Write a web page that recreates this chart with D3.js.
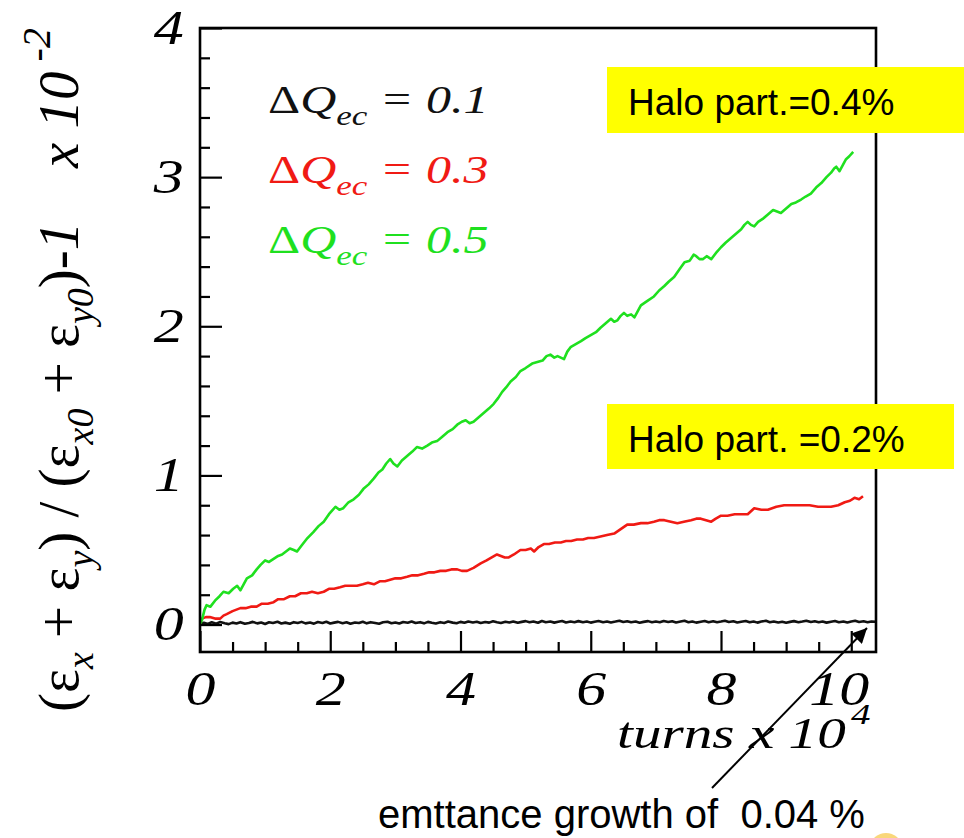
<!DOCTYPE html>
<html>
<head>
<meta charset="utf-8">
<script src="https://cdn.jsdelivr.net/npm/d3@7"></script>
<style>
  body { margin: 0; background: #fff; }
  svg { display: block; }
</style>
</head>
<body>
<svg id="chart" width="964" height="838"></svg>
<script>
// ---- data: relative emittance growth (x 10^-2) vs. turns (x 10^4) ----
const xMajorTicks = [0, 2, 4, 6, 8, 10];
const xMinorTicks = [0.5, 1, 1.5, 2.5, 3, 3.5, 4.5, 5, 5.5, 6.5, 7, 7.5, 8.5, 9, 9.5];
const yMajorTicks = [0, 1, 2, 3, 4];
const yMinorTicks = [0.2, 0.4, 0.6, 0.8, 1.2, 1.4, 1.6, 1.8, 2.2, 2.4, 2.6, 2.8, 3.2, 3.4, 3.6, 3.8];

const seriesNames = ["0.1", "0.3", "0.5"];

// ΔQec = 0.1
const seriesQ01 = [
  [0,0.000],[0.06,0.012],[0.12,0.004],[0.18,0.015],[0.25,0.006],[0.31,0.017],[0.38,0.009],[0.44,0.003],
  [0.5,0.013],[0.56,0.007],[0.62,0.016],[0.69,0.005],[0.75,0.011],[0.81,0.018],[0.88,0.008],[0.94,0.014],
  [1.0,0.004],[1.06,0.015],[1.12,0.010],[1.19,0.019],[1.25,0.007],[1.31,0.013],[1.38,0.005],[1.44,0.016],
  [1.5,0.010],[1.56,0.018],[1.62,0.008],[1.69,0.014],[1.75,0.006],[1.81,0.017],[1.88,0.011],[1.94,0.019],
  [2.0,0.007],[2.06,0.013],[2.12,0.018],[2.19,0.009],[2.25,0.015],[2.31,0.005],[2.38,0.014],[2.44,0.010],
  [2.5,0.019],[2.56,0.008],[2.62,0.016],[2.69,0.011],[2.75,0.006],[2.81,0.015],[2.88,0.019],[2.94,0.009],
  [3.0,0.014],[3.06,0.007],[3.12,0.017],[3.19,0.012],[3.25,0.020],[3.31,0.010],[3.38,0.016],[3.44,0.008],
  [3.5,0.018],[3.56,0.012],[3.62,0.007],[3.69,0.016],[3.75,0.011],[3.81,0.020],[3.88,0.013],[3.94,0.009],
  [4.0,0.018],[4.06,0.012],[4.12,0.021],[4.19,0.014],[4.25,0.019],[4.31,0.010],[4.38,0.017],[4.44,0.013],
  [4.5,0.022],[4.56,0.015],[4.62,0.010],[4.69,0.019],[4.75,0.014],[4.81,0.021],[4.88,0.012],[4.94,0.018],
  [5.0,0.023],[5.06,0.015],[5.12,0.020],[5.19,0.012],[5.25,0.024],[5.31,0.016],[5.38,0.020],[5.44,0.013],
  [5.5,0.019],[5.56,0.024],[5.62,0.014],[5.69,0.020],[5.75,0.016],[5.81,0.023],[5.88,0.015],[5.94,0.021],
  [6.0,0.013],[6.06,0.019],[6.12,0.024],[6.19,0.016],[6.25,0.021],[6.31,0.014],[6.38,0.020],[6.44,0.026],
  [6.5,0.017],[6.56,0.022],[6.62,0.015],[6.69,0.020],[6.75,0.012],[6.81,0.018],[6.88,0.023],[6.94,0.015],
  [7.0,0.021],[7.06,0.016],[7.12,0.024],[7.19,0.017],[7.25,0.022],[7.31,0.014],[7.38,0.020],[7.44,0.025],
  [7.5,0.016],[7.56,0.021],[7.62,0.013],[7.69,0.019],[7.75,0.024],[7.81,0.016],[7.88,0.022],[7.94,0.015],
  [8.0,0.020],[8.06,0.026],[8.12,0.017],[8.19,0.022],[8.25,0.014],[8.31,0.019],[8.38,0.024],[8.44,0.016],
  [8.5,0.021],[8.56,0.013],[8.62,0.020],[8.69,0.025],[8.75,0.016],[8.81,0.021],[8.88,0.014],[8.94,0.019],
  [9.0,0.012],[9.06,0.018],[9.12,0.023],[9.19,0.015],[9.25,0.020],[9.31,0.026],[9.38,0.017],[9.44,0.022],
  [9.5,0.015],[9.56,0.020],[9.62,0.013],[9.69,0.019],[9.75,0.024],[9.81,0.016],[9.88,0.021],[9.94,0.014],
  [10.0,0.020],[10.06,0.025],[10.12,0.017],[10.19,0.022],[10.25,0.016],[10.31,0.021],[10.38,0.019]
];

// ΔQec = 0.3
const seriesQ03 = [
  [0,0],[0.03,0.04],[0.09,0.05],[0.15,0.05],[0.23,0.04],[0.31,0.04],[0.36,0.06],[0.41,0.07],[0.5,0.09],
  [0.56,0.10],[0.62,0.11],[0.7,0.11],[0.78,0.12],[0.87,0.12],[0.95,0.14],[1.04,0.14],[1.13,0.15],
  [1.2,0.17],[1.29,0.17],[1.38,0.19],[1.46,0.19],[1.55,0.21],[1.64,0.21],[1.72,0.22],[1.81,0.21],
  [1.9,0.22],[1.98,0.24],[2.06,0.24],[2.15,0.25],[2.23,0.26],[2.32,0.26],[2.41,0.26],[2.5,0.27],
  [2.58,0.28],[2.67,0.27],[2.76,0.29],[2.84,0.29],[2.92,0.30],[3.0,0.31],[3.09,0.31],[3.18,0.32],
  [3.26,0.33],[3.35,0.33],[3.44,0.34],[3.52,0.35],[3.6,0.35],[3.69,0.36],[3.78,0.36],[3.86,0.37],
  [3.95,0.37],[4.02,0.36],[4.1,0.36],[4.2,0.38],[4.31,0.41],[4.4,0.43],[4.48,0.45],[4.56,0.47],
  [4.62,0.46],[4.68,0.45],[4.74,0.45],[4.82,0.47],[4.92,0.50],[5.0,0.50],[5.08,0.51],[5.13,0.49],
  [5.2,0.52],[5.28,0.54],[5.36,0.54],[5.45,0.55],[5.54,0.55],[5.62,0.56],[5.7,0.56],[5.79,0.57],
  [5.88,0.57],[5.96,0.58],[6.05,0.58],[6.15,0.59],[6.25,0.60],[6.36,0.61],[6.46,0.64],[6.56,0.67],
  [6.66,0.67],[6.77,0.68],[6.87,0.68],[6.97,0.69],[7.05,0.70],[7.13,0.70],[7.23,0.69],[7.33,0.68],
  [7.43,0.69],[7.54,0.70],[7.62,0.71],[7.69,0.71],[7.77,0.70],[7.85,0.69],[7.92,0.71],[8.0,0.73],
  [8.1,0.73],[8.21,0.74],[8.31,0.74],[8.41,0.74],[8.46,0.76],[8.51,0.78],[8.62,0.77],[8.72,0.77],
  [8.85,0.79],[8.97,0.80],[9.1,0.80],[9.23,0.80],[9.36,0.80],[9.49,0.79],[9.6,0.79],[9.69,0.79],
  [9.8,0.80],[9.9,0.82],[9.98,0.83],[10.05,0.85],[10.12,0.84],[10.18,0.86]
];

// ΔQec = 0.5
const seriesQ05 = [
  [0,0],[0.03,0.03],[0.07,0.10],[0.1,0.13],[0.16,0.12],[0.23,0.16],[0.3,0.19],[0.36,0.22],[0.44,0.21],
  [0.51,0.24],[0.57,0.26],[0.62,0.23],[0.67,0.27],[0.72,0.31],[0.8,0.33],[0.87,0.37],[0.93,0.40],
  [1.0,0.43],[1.06,0.42],[1.13,0.44],[1.2,0.46],[1.26,0.47],[1.32,0.49],[1.38,0.51],[1.44,0.50],
  [1.49,0.49],[1.56,0.53],[1.65,0.58],[1.74,0.62],[1.82,0.66],[1.9,0.69],[1.98,0.74],[2.08,0.79],
  [2.14,0.77],[2.2,0.78],[2.28,0.82],[2.36,0.84],[2.44,0.87],[2.51,0.91],[2.59,0.94],[2.67,0.98],
  [2.74,1.02],[2.8,1.04],[2.86,1.08],[2.92,1.11],[2.97,1.08],[3.03,1.06],[3.1,1.10],[3.18,1.13],
  [3.26,1.16],[3.33,1.19],[3.41,1.18],[3.49,1.20],[3.56,1.22],[3.64,1.23],[3.72,1.26],[3.8,1.29],
  [3.88,1.31],[3.95,1.34],[4.02,1.36],[4.08,1.37],[4.14,1.35],[4.2,1.36],[4.28,1.39],[4.36,1.42],
  [4.44,1.45],[4.51,1.48],[4.58,1.52],[4.64,1.56],[4.7,1.59],[4.77,1.63],[4.85,1.66],[4.92,1.70],
  [5.0,1.72],[5.1,1.75],[5.18,1.76],[5.26,1.77],[5.32,1.80],[5.38,1.81],[5.44,1.79],[5.49,1.80],
  [5.54,1.79],[5.59,1.78],[5.64,1.83],[5.69,1.86],[5.77,1.88],[5.85,1.90],[5.92,1.92],[6.0,1.94],
  [6.08,1.96],[6.15,1.99],[6.23,2.02],[6.31,2.05],[6.36,2.03],[6.41,2.04],[6.46,2.07],[6.51,2.09],
  [6.56,2.07],[6.62,2.08],[6.67,2.06],[6.72,2.10],[6.77,2.14],[6.87,2.17],[6.97,2.20],[7.05,2.24],
  [7.13,2.27],[7.2,2.30],[7.28,2.33],[7.36,2.38],[7.44,2.43],[7.52,2.44],[7.58,2.48],[7.62,2.47],
  [7.67,2.45],[7.72,2.45],[7.78,2.47],[7.85,2.45],[7.92,2.49],[8.0,2.53],[8.07,2.56],[8.15,2.59],
  [8.23,2.62],[8.31,2.65],[8.36,2.68],[8.41,2.70],[8.46,2.68],[8.51,2.67],[8.57,2.70],[8.64,2.72],
  [8.72,2.75],[8.8,2.78],[8.86,2.77],[8.92,2.76],[9.0,2.79],[9.08,2.82],[9.15,2.83],[9.23,2.85],
  [9.3,2.87],[9.38,2.89],[9.46,2.93],[9.54,2.96],[9.62,3.00],[9.69,3.03],[9.74,3.06],[9.77,3.07],
  [9.82,3.04],[9.87,3.08],[9.92,3.12],[9.97,3.14],[10.03,3.17]
];

const haloLabels = ["Halo part.=0.4%", "Halo part. =0.2%"];
const noteText = "emttance growth of  0.04 %";

// ---- layout & style ----
const seriesColors = ["#111111", "#f01a14", "#1fe01f"];
const serif = "'Liberation Serif', 'Times New Roman', serif";
const sans = "'Liberation Sans', Arial, sans-serif";
const stretch = 1.25;   // plot lettering is drawn wide

const svg = d3.select("#chart");
const plot = { left: 200, right: 876, top: 28, bottom: 652 };

const x = d3.scaleLinear().domain([0, 10.38]).range([plot.left, plot.right]);
const y = d3.scaleLinear().domain([-0.184, 4]).range([plot.bottom, plot.top]);

svg.append("defs").append("clipPath").attr("id", "plotClip")
  .append("rect")
  .attr("x", plot.left).attr("y", plot.top)
  .attr("width", plot.right - plot.left).attr("height", plot.bottom - plot.top);

// curves
const line = d3.line().x(d => x(d[0])).y(d => y(d[1]));
const curves = svg.append("g").attr("clip-path", "url(#plotClip)");
[seriesQ01, seriesQ03, seriesQ05].forEach((s, i) => {
  curves.append("path")
    .datum(s)
    .attr("d", line)
    .attr("fill", "none")
    .attr("stroke", seriesColors[i])
    .attr("stroke-width", 2.6)
    .attr("stroke-linejoin", "round");
});

// axes: ticks point inwards
function styleAxis(g) {
  g.select(".domain").remove();
  g.selectAll(".tick line").attr("stroke", "#000").attr("stroke-width", 2.2);
}

svg.append("g")
  .attr("transform", `translate(0,${plot.bottom})`)
  .call(d3.axisBottom(x).tickValues(xMinorTicks).tickSizeInner(-10).tickSizeOuter(0).tickFormat(""))
  .call(styleAxis);

const xAxis = svg.append("g")
  .attr("transform", `translate(0,${plot.bottom})`)
  .call(d3.axisBottom(x).tickValues(xMajorTicks).tickSizeInner(-21).tickSizeOuter(0)
        .tickPadding(19).tickFormat(d3.format("d")))
  .call(styleAxis);
xAxis.selectAll(".tick text")
  .attr("font-family", serif).attr("font-style", "italic").attr("font-size", 48)
  .attr("fill", "#000")
  .attr("dx", d => d === 10 ? -10 : 0)
  .attr("transform", `scale(${stretch},1)`);

svg.append("g")
  .attr("transform", `translate(${plot.left},0)`)
  .call(d3.axisLeft(y).tickValues(yMinorTicks).tickSizeInner(-10).tickSizeOuter(0).tickFormat(""))
  .call(styleAxis);

const yAxis = svg.append("g")
  .attr("transform", `translate(${plot.left},0)`)
  .call(d3.axisLeft(y).tickValues(yMajorTicks).tickSizeInner(-22).tickSizeOuter(0)
        .tickPadding(13).tickFormat(d3.format("d")))
  .call(styleAxis);
yAxis.selectAll(".tick text")
  .attr("font-family", serif).attr("font-style", "italic").attr("font-size", 48)
  .attr("fill", "#000")
  .attr("transform", `scale(${stretch},1)`);

// frame
svg.append("rect")
  .attr("x", plot.left).attr("y", plot.top)
  .attr("width", plot.right - plot.left).attr("height", plot.bottom - plot.top)
  .attr("fill", "none").attr("stroke", "#000").attr("stroke-width", 2.6);

// x axis title: turns x 10^4
const xt = svg.append("g").attr("transform", `translate(617,748) scale(1.3,1)`)
  .append("text")
  .attr("font-family", serif).attr("font-style", "italic").attr("font-size", 44).attr("fill", "#000");
xt.append("tspan").text("turns x 10");
xt.append("tspan").attr("dy", -24).attr("dx", 4).attr("font-size", 30).text("4");

// y axis title: (εx + εy) / (εx0 + εy0)-1   x 10^-2
function addRich(g, parts, size, subSize, subShift, supShift) {
  const t = g.append("text").attr("font-family", serif).attr("font-size", size).attr("fill", "#000")
    .style("white-space", "pre");
  let shift = 0;
  parts.forEach(p => {
    const target = p.sub ? subShift : p.sup ? supShift : 0;
    const ts = t.append("tspan").attr("dy", target - shift).text(p.t);
    shift = target;
    if (p.sub || p.sup) ts.attr("font-size", subSize);
    if (p.it) ts.attr("font-style", "italic");
  });
  return t;
}
const yl1 = svg.append("g").attr("transform", "translate(78,712) rotate(-90)");
addRich(yl1, [
  { t: "(ε" }, { t: "x", sub: true, it: true }, { t: " + ε" }, { t: "y", sub: true, it: true },
  { t: ") / (ε" }, { t: "x0", sub: true, it: true }, { t: " + ε" }, { t: "y0", sub: true, it: true },
  { t: ")-" }, { t: "1", it: true }
], 57, 38, 15, -26);
const yl2 = svg.append("g").attr("transform", "translate(78,168) rotate(-90)");
addRich(yl2, [
  { t: "x 10", it: true }, { t: " -2", sup: true, it: true }
], 57, 40, 15, -28);

// legend
seriesNames.forEach((name, i) => {
  const g = svg.append("g").attr("transform", `translate(268,${113 + i * 70}) scale(${stretch},1)`);
  const t = g.append("text").attr("font-family", serif).attr("font-size", 40).attr("fill", seriesColors[i]);
  t.append("tspan").text("Δ");
  t.append("tspan").attr("font-style", "italic").text("Q");
  t.append("tspan").attr("font-style", "italic").attr("font-size", 28).attr("dy", 12).text("ec");
  t.append("tspan").attr("font-style", "italic").attr("dy", -12).style("white-space", "pre").text(" = " + name);
});

// halo annotations
const boxes = [
  { x: 607, y: 67, w: 357, h: 66, tx: 628, ty: 115 },
  { x: 607, y: 404, w: 347, h: 65, tx: 628, ty: 452 }
];
boxes.forEach((b, i) => {
  svg.append("rect").attr("x", b.x).attr("y", b.y).attr("width", b.w).attr("height", b.h).attr("fill", "#ffff00");
  svg.append("text").attr("x", b.tx).attr("y", b.ty)
    .attr("font-family", sans).attr("font-size", 37).attr("fill", "#000")
    .style("white-space", "pre").text(haloLabels[i]);
});

// note with arrow to the flat curve
svg.append("defs").append("marker")
  .attr("id", "arrowHead").attr("viewBox", "0 0 10 10")
  .attr("refX", 10).attr("refY", 5)
  .attr("markerWidth", 9).attr("markerHeight", 7.5).attr("markerUnits", "strokeWidth")
  .attr("orient", "auto")
  .append("path").attr("d", "M0,0 L10,5 L0,10 Z").attr("fill", "#000");
svg.append("line")
  .attr("x1", 712).attr("y1", 788).attr("x2", 867).attr("y2", 628)
  .attr("stroke", "#000").attr("stroke-width", 2)
  .attr("marker-end", "url(#arrowHead)");
svg.append("text").attr("x", 378).attr("y", 828)
  .attr("font-family", sans).attr("font-size", 40).attr("fill", "#000")
  .style("white-space", "pre").text(noteText);

// small decorative dot at the page corner
svg.append("ellipse").attr("cx", 886).attr("cy", 846).attr("rx", 15).attr("ry", 13)
  .attr("fill", "#f6c642").attr("opacity", 0.7);
</script>
</body>
</html>
